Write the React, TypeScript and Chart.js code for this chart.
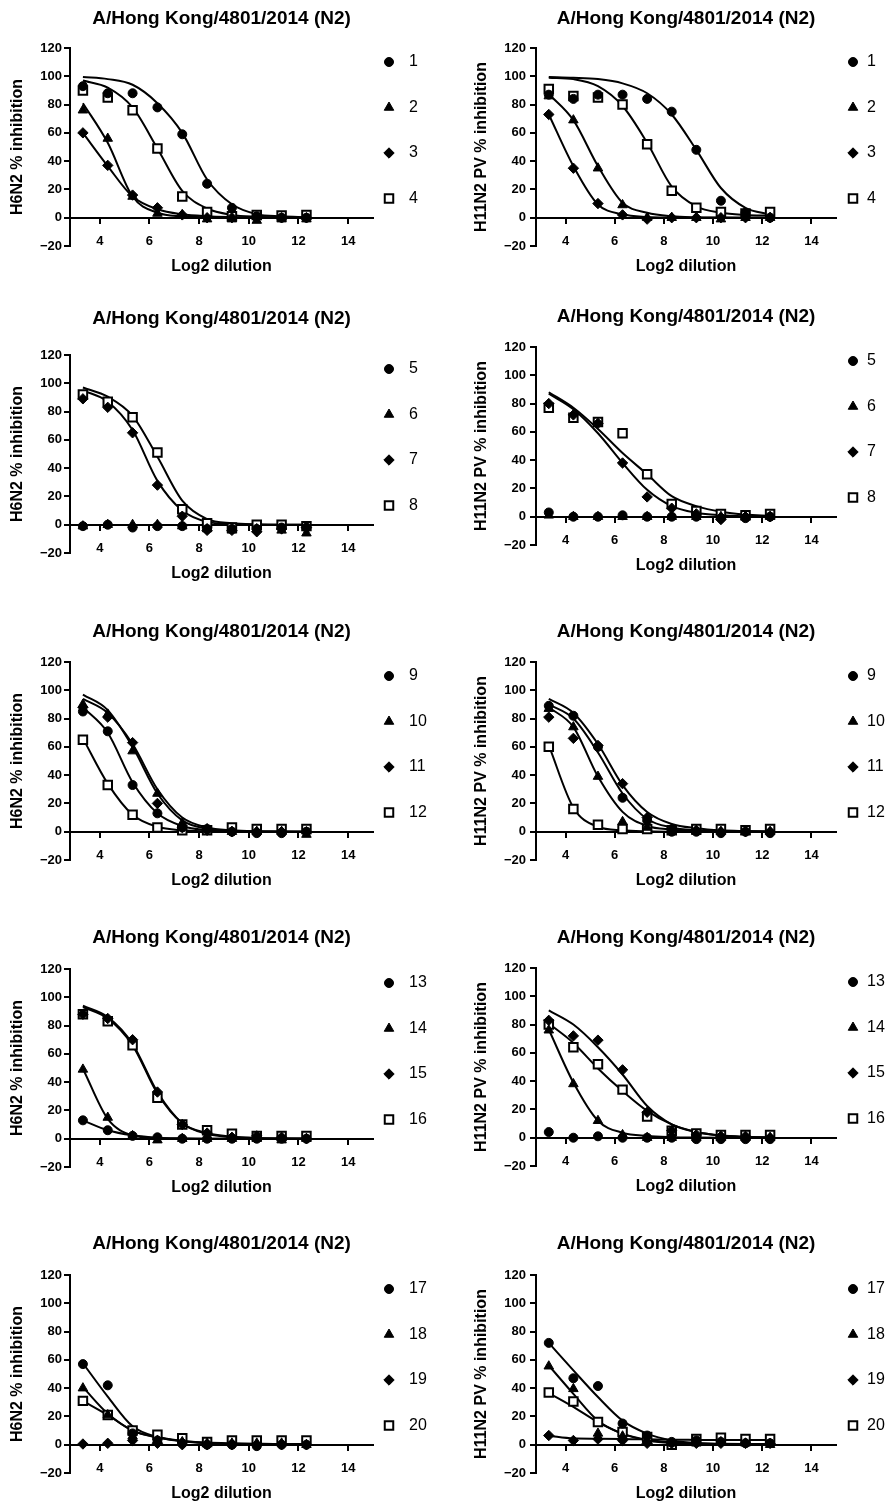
import React, { useEffect, useRef } from 'react';
import { Chart, registerables } from 'chart.js';
import { drawPoint } from 'chart.js/helpers';

Chart.register(...registerables);

// ---------- data ----------
const log2Dilution = [3.32, 4.32, 5.32, 6.32, 7.32, 8.32, 9.32, 10.32, 11.32, 12.32];
const xTicks = [4, 6, 8, 10, 12, 14];
const yTicks = [-20, 0, 20, 40, 60, 80, 100, 120];
const panelTitle = 'A/Hong Kong/4801/2014 (N2)';
const xAxisTitle = 'Log2 dilution';
const h6n2AxisTitle = 'H6N2 % inhibition';
const h11n2AxisTitle = 'H11N2 PV % inhibition';

const sera1to4 = ['1', '2', '3', '4'];
const sera5to8 = ['5', '6', '7', '8'];
const sera9to12 = ['9', '10', '11', '12'];
const sera13to16 = ['13', '14', '15', '16'];
const sera17to20 = ['17', '18', '19', '20'];

// measured points (% inhibition) per serum, at each log2 dilution
const h6n2Sera1to4 = [
  [93, 88, 88, 78, 59, 24, 7, 1, 0, 0],
  [76, 56, 15, 3, 2, -1, -1, -2, -1, -1],
  [60, 37, 16, 7, 2, 0, 0, 0, 0, 0],
  [90, 85, 76, 49, 15, 4, 1, 2, 1.5, 2],
];
const h6n2Fit1to4 = [
  [99.5, 98, 94, 81, 60, 27, 9.5, 2.5, 1, 0.3],
  [81, 53, 15, 3.5, 1, 0.3, 0.1, 0, 0, 0],
  [60, 36.5, 15, 6, 2.4, 1, 0.4, 0.1, 0, 0],
  [97, 92, 78, 49, 19, 6.5, 2, 0.7, 0.3, 0.1],
];
const h11n2Sera1to4 = [
  [87, 84, 87, 87, 84, 75, 48, 12, 3.5, 0],
  [86, 69, 35, 9, 0, 0, 0, -1, 0, 0],
  [73, 35, 10, 2, -1, 0, 0, 0, 0, 0],
  [91, 86, 85, 80, 52, 19, 7, 4, 3, 4],
];
const h11n2Fit1to4 = [
  [99.5, 99, 98, 95, 88, 73, 48, 21, 7, 2.3],
  [87.5, 69, 36.5, 10.6, 3.5, 1, 0.3, 0.1, 0, 0],
  [73, 36.5, 9.4, 2.4, 0.5, 0.1, 0, 0, 0, 0],
  [99, 98, 93, 79, 53, 22, 8, 3.5, 2, 1.5],
];

const h6n2Sera5to8 = [
  [-1, 0, -2, -1, -1, -3, -3, -3, -2, -2],
  [-1, 0, 0, 0, -1, -3, -4, -3, -4, -6],
  [89, 83, 65, 28, 6, -4, -4, -5, -3, -2],
  [92, 87, 76, 51, 11, 1, -2, 0, 0, -1],
];
const h6n2Fit5to8 = [
  null,
  null,
  [95, 87, 67, 31, 10, 2, 0.5, 0.1, 0, 0],
  [97, 90.5, 77, 48, 17, 4, 1, 0.2, 0, 0],
];
const h11n2Sera5to8 = [
  [3, 0, 0, 1, 0, 0, 0, -1, -1, 0],
  [1, 0, 0, 0, 0, 0, 0, 0, 0, 0],
  [80, 72, 66, 38, 14, 6, 2, -2, 0, 0],
  [77, 70, 67, 59, 30, 9, 4, 2, 1, 2],
];
const h11n2Fit5to8 = [
  null,
  null,
  [87, 76, 59, 38, 19, 7.5, 2.8, 1, 0.3, 0.1],
  [88, 77, 62, 45, 30, 14.5, 7.5, 3.5, 1.5, 0.7],
];

const h6n2Sera9to12 = [
  [85, 71, 33, 13, 3, 2, 0, -1, -1, 0],
  [90, 83, 57, 27, 6, 2, 0, 0, 0, -2],
  [88, 81, 63, 20, 3, 1, 0, 0, 0, 0],
  [65, 33, 12, 3, 1, 1, 3, 2, 2, 2],
];
const h6n2Fit9to12 = [
  [88, 70, 35, 13, 4, 1, 0.3, 0.1, 0, 0],
  [97, 86, 60, 27, 8, 2, 0.5, 0.1, 0, 0],
  [94, 84, 62, 30, 10, 3, 1, 0.3, 0.1, 0],
  [66, 34, 12, 3.5, 1, 0.3, 0.1, 0, 0, 0],
];
const h11n2Sera9to12 = [
  [89, 82, 60, 24, 8, 0, 0, -1, 0, -1],
  [87, 74, 39, 7, 3, 1, 0, 0, 0, 0],
  [81, 66, 61, 34, 10, 2, 1, 0, 0, 0],
  [60, 16, 5, 2, 2, 1, 2, 2, 1, 2],
];
const h11n2Fit9to12 = [
  [90, 80, 56, 27, 9, 3, 1, 0.3, 0.1, 0],
  [88, 74, 39, 14, 4, 1.5, 0.5, 0.2, 0, 0],
  [94, 84, 62, 33, 14, 5.5, 2.5, 1, 0.5, 0.2],
  [61, 17, 3.5, 1, 0.3, 0, 0, 0, 0, 0],
];

const h6n2Sera13to16 = [
  [13, 6, 2, 1, 0, 0, 0, 0, 0, 0],
  [49, 15, 2, -1, 0, 0, 0, 0, -1, 0],
  [88, 85, 70, 33, 10, 4, 1, 2, 1, 0],
  [88, 83, 66, 29, 10, 6, 3.5, 2, 2, 2],
];
const h6n2Fit13to16 = [
  [13, 6, 2.4, 0.7, 0.2, 0, 0, 0, 0, 0],
  [49.5, 14, 2.4, 0.5, 0.1, 0, 0, 0, 0, 0],
  [94, 86, 67, 33, 11, 3.5, 1, 0.3, 0.1, 0],
  [93, 85, 66, 32, 11, 4, 1.5, 0.5, 0.2, 0.1],
];
const h11n2Sera13to16 = [
  [4, 0, 1, 0, 0, 0, -1, -1, -1, -1],
  [76, 38, 12, 2, 0, 0, 0, 0, 0, 0],
  [83, 72, 69, 48, 18, 5, 2, 1, 1, 0],
  [80, 64, 52, 34, 15, 5, 3, 2, 2, 2],
];
const h11n2Fit13to16 = [
  null,
  [76.5, 39, 12, 3.5, 1.2, 0.4, 0.1, 0, 0, 0],
  [90, 80, 64, 44.7, 22.4, 9.4, 4, 1.5, 0.5, 0.2],
  [80.7, 67, 49, 33, 19, 9.4, 4, 1.5, 0.6, 0.2],
];

const h6n2Sera17to20 = [
  [57, 42, 8, 3, 1, 0, 0, -1, 0, 0],
  [40, 21, 6, 3, 2, 1, 1, 1, 1, 0],
  [0.5, 1, 3, 1, 0, 0, 0, 0, 0, 0],
  [31, 21, 10, 7, 4.5, 2, 3, 3, 3, 3],
];
const h6n2Fit17to20 = [
  [57.6, 34, 13, 5.4, 2.4, 1, 0.4, 0.2, 0.1, 0],
  [40.7, 22, 10, 5.4, 2.6, 1.2, 0.6, 0.3, 0.1, 0],
  null,
  [31, 21, 10, 5, 2.6, 1.5, 1, 0.7, 0.5, 0.5],
];
const h11n2Sera17to20 = [
  [72, 47, 41.5, 15, 6.5, 2, 3, 2, 1, 1],
  [55.5, 39.5, 8, 6, 3, 1, 1, 2, 1, 0],
  [6.5, 3, 4, 3, 1, 1, 1, 1, 1, 1],
  [37, 30.5, 16, 9, 5.5, 0, 4, 5, 4, 4],
];
const h11n2Fit17to20 = [
  [72, 52.6, 33.7, 17, 7.8, 3, 1.2, 0.5, 0.2, 0.1],
  [56, 36, 17, 7.8, 3, 1.2, 0.4, 0.1, 0, 0],
  [6.4, 4.5, 4.2, 4, 3.8, 3.5, 3.4, 3.3, 3.3, 3.3],
  [36.5, 26.7, 16, 7.8, 3.5, 1.8, 1, 0.7, 0.5, 0.4],
];

// ---------- styles / layout ----------
const FONT = "'Liberation Sans', Arial, Helvetica, sans-serif";
const markerShapes = ['circle', 'triangle', 'rectRot', 'rect'];
const markerRadii = [4.5, 5.5, 5.2, 6];
const markerFills = ['#000', '#000', '#000', '#fff'];
const markerBorders = [1, 1, 1, 2];

const CANVAS_W = 448;
const CANVAS_H = 283;
const TOP_SPACE = 50;

const columns = [
  { left: 0, padLeft: 8, yWidth: 62, padRight: 75, tickPad: 2, markX: 16, textX: 36 },
  { left: 448, padLeft: 24, yWidth: 64, padRight: 60, tickPad: 4, markX: 17, textX: 31 },
];

const panels = [
  { col: 0, chartTop: 48, titleGap: 29.5, yTitle: h6n2AxisTitle, sera: sera1to4, points: h6n2Sera1to4, fits: h6n2Fit1to4 },
  { col: 1, chartTop: 48, titleGap: 29, yTitle: h11n2AxisTitle, sera: sera1to4, points: h11n2Sera1to4, fits: h11n2Fit1to4 },
  { col: 0, chartTop: 355, titleGap: 36.5, yTitle: h6n2AxisTitle, sera: sera5to8, points: h6n2Sera5to8, fits: h6n2Fit5to8 },
  { col: 1, chartTop: 347, titleGap: 30.5, yTitle: h11n2AxisTitle, sera: sera5to8, points: h11n2Sera5to8, fits: h11n2Fit5to8 },
  { col: 0, chartTop: 662, titleGap: 30.5, yTitle: h6n2AxisTitle, sera: sera9to12, points: h6n2Sera9to12, fits: h6n2Fit9to12 },
  { col: 1, chartTop: 662, titleGap: 30.5, yTitle: h11n2AxisTitle, sera: sera9to12, points: h11n2Sera9to12, fits: h11n2Fit9to12 },
  { col: 0, chartTop: 969, titleGap: 31.5, yTitle: h6n2AxisTitle, sera: sera13to16, points: h6n2Sera13to16, fits: h6n2Fit13to16 },
  { col: 1, chartTop: 968, titleGap: 30.5, yTitle: h11n2AxisTitle, sera: sera13to16, points: h11n2Sera13to16, fits: h11n2Fit13to16 },
  { col: 0, chartTop: 1275, titleGap: 31.5, yTitle: h6n2AxisTitle, sera: sera17to20, points: h6n2Sera17to20, fits: h6n2Fit17to20 },
  { col: 1, chartTop: 1275, titleGap: 31.5, yTitle: h11n2AxisTitle, sera: sera17to20, points: h11n2Sera17to20, fits: h11n2Fit17to20 },
];

const sideLegend = {
  id: 'sideLegend',
  afterDatasetsDraw(chart: any, _args: any, opts: any) {
    const { ctx, chartArea } = chart;
    const items = chart.data.datasets.filter((d: any) => d.type === 'scatter');
    ctx.save();
    items.forEach((ds: any, i: number) => {
      const y = chartArea.top + opts.firstOffset + i * opts.spacing;
      ctx.fillStyle = ds.pointBackgroundColor;
      ctx.strokeStyle = ds.pointBorderColor;
      ctx.lineWidth = ds.pointBorderWidth;
      drawPoint(ctx, { pointStyle: ds.pointStyle, radius: ds.pointRadius, borderWidth: ds.pointBorderWidth, rotation: 0 } as any, chartArea.right + opts.markX, y);
      ctx.fillStyle = '#000';
      ctx.font = `16px ${FONT}`;
      ctx.textAlign = 'left';
      ctx.textBaseline = 'middle';
      ctx.fillText(ds.label, chartArea.right + opts.textX, y);
    });
    ctx.restore();
  },
};

function buildConfig(p: any) {
  const col = columns[p.col];
  const datasets: any[] = [];
  p.fits.forEach((fit: any) => {
    if (!fit) return;
    datasets.push({
      type: 'line',
      label: '',
      data: log2Dilution.map((x, j) => ({ x, y: fit[j] })),
      borderColor: '#000',
      borderWidth: 2,
      pointRadius: 0,
      pointHoverRadius: 0,
      fill: false,
      cubicInterpolationMode: 'monotone',
      order: 2,
    });
  });
  p.points.forEach((series: number[], i: number) => {
    datasets.push({
      type: 'scatter',
      label: p.sera[i],
      data: log2Dilution.map((x, j) => ({ x, y: series[j] })),
      pointStyle: markerShapes[i],
      pointRadius: markerRadii[i],
      pointHoverRadius: markerRadii[i],
      pointBackgroundColor: markerFills[i],
      pointBorderColor: '#000',
      pointBorderWidth: markerBorders[i],
      showLine: false,
      order: 1,
    });
  });
  const titleLH = 19 * 1.2;
  const subLH = 16 * 1.2;
  const subTop = 20.5 - subLH / 2;
  const chartH = 198;
  const subBottom = CANVAS_H - TOP_SPACE - chartH - subTop - subLH;
  const tickFont = { family: FONT, size: 13, weight: 'bold' as const };
  return {
    type: 'scatter',
    data: { datasets },
    options: {
      animation: false,
      responsive: false,
      devicePixelRatio: 1,
      events: [],
      layout: { padding: { left: col.padLeft, right: col.padRight, top: 0, bottom: 0 } },
      plugins: {
        legend: { display: false },
        tooltip: { enabled: false },
        title: {
          display: true,
          text: panelTitle,
          position: 'top',
          fullSize: false,
          color: '#000',
          font: { family: FONT, size: 19, weight: 'bold', lineHeight: 1.2 },
          padding: { top: TOP_SPACE - p.titleGap - titleLH / 2, bottom: p.titleGap - titleLH / 2 },
        },
        subtitle: {
          display: true,
          text: xAxisTitle,
          position: 'bottom',
          fullSize: false,
          color: '#000',
          font: { family: FONT, size: 16, weight: 'bold', lineHeight: 1.2 },
          padding: { top: subTop, bottom: subBottom },
        },
        sideLegend: { firstOffset: 14, spacing: 45.5, markX: col.markX, textX: col.textX },
      },
      scales: {
        x: {
          type: 'linear',
          position: { y: 0 },
          min: 2.8,
          max: 15,
          afterBuildTicks: (s: any) => {
            s.ticks = xTicks.map((v) => ({ value: v }));
          },
          ticks: { color: '#000', font: tickFont, padding: 11, maxRotation: 0, autoSkip: false },
          grid: { display: true, drawOnChartArea: false, drawTicks: true, tickLength: 5, color: '#000', lineWidth: 2 },
          border: { display: true, color: '#000', width: 2 },
        },
        y: {
          type: 'linear',
          position: 'left',
          min: -20,
          max: 120,
          afterBuildTicks: (s: any) => {
            s.ticks = yTicks.map((v) => ({ value: v }));
          },
          afterFit: (s: any) => {
            s.width = col.yWidth;
          },
          ticks: {
            color: '#000',
            font: tickFont,
            padding: col.tickPad,
            autoSkip: false,
            callback: (v: any) => (v < 0 ? '\u2212' + Math.abs(v) : String(v)),
          },
          grid: { display: true, drawOnChartArea: false, drawTicks: true, tickLength: 6, color: '#000', lineWidth: 2 },
          border: { display: true, color: '#000', width: 2 },
          title: {
            display: true,
            text: p.yTitle,
            color: '#000',
            font: { family: FONT, size: 16, weight: 'bold', lineHeight: 1.2 },
            padding: 0,
          },
        },
      },
    },
    plugins: [sideLegend],
  };
}

function Panel({ p }: { p: any }) {
  const ref = useRef<HTMLCanvasElement | null>(null);
  useEffect(() => {
    if (!ref.current) return;
    const chart = new Chart(ref.current, buildConfig(p) as any);
    return () => chart.destroy();
  }, [p]);
  const col = columns[p.col];
  return (
    <canvas
      ref={ref}
      width={CANVAS_W}
      height={CANVAS_H}
      style={{ position: 'absolute', left: col.left, top: p.chartTop - TOP_SPACE, width: CANVAS_W, height: CANVAS_H, display: 'block' }}
    />
  );
}

export default function App() {
  Chart.defaults.font.family = FONT;
  Chart.defaults.color = '#000';
  return (
    <div style={{ position: 'absolute', left: 0, top: 0, width: 896, height: 1505, overflow: 'hidden', background: '#fff' }}>
      {panels.map((p, i) => (
        <Panel key={i} p={p} />
      ))}
    </div>
  );
}
